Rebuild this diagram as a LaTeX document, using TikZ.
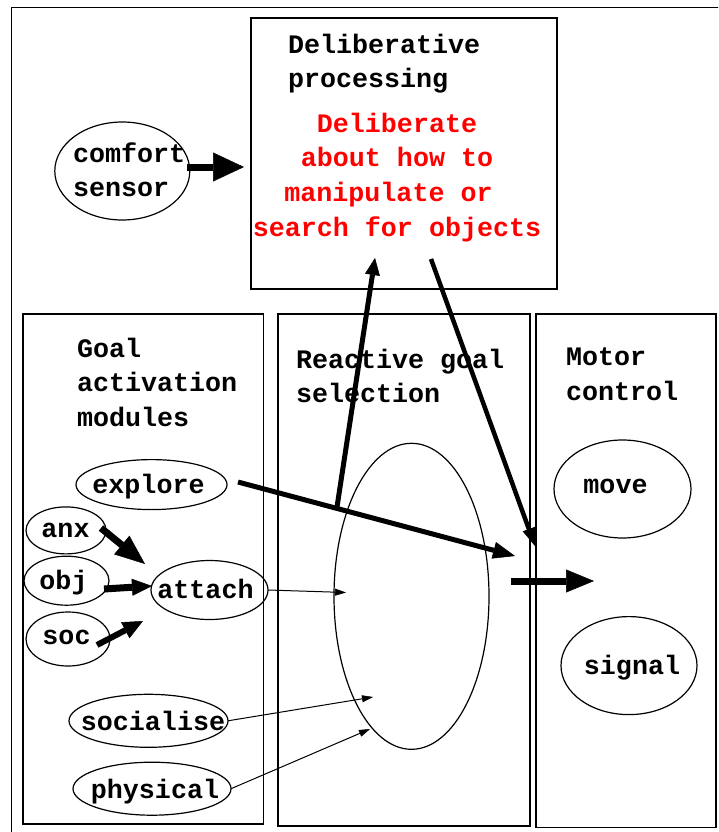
\documentclass[tikz,border=0pt]{standalone}
\usepackage{fontspec}
\setmainfont{Liberation Mono}
\usetikzlibrary{arrows.meta,shapes.geometric}
\begin{document}
\begin{tikzpicture}[x=1pt,y=-1pt,
  every node/.style={inner sep=0pt,outer sep=0pt},
  lbl/.style={font=\fontsize{26.7}{34}\selectfont\bfseries,anchor=base west},
  clbl/.style={font=\fontsize{26.7}{34}\selectfont\bfseries,anchor=base},
  panel/.style={draw,line width=1.5pt,anchor=north west},
  oval/.style={ellipse,draw,line width=1.2pt},
  arr/.style n args={3}{line width=#1,-{Triangle[length=#2,width=#3,line width=0.5pt]}},
  feed/.style={line width=1pt,-{Triangle[length=11pt,width=7pt,line width=0.5pt]}}]
\useasboundingbox (0,0) rectangle (718,832);
\clip (0,0) rectangle (718,832);

% outer frame (runs past the right and bottom edges)
\node[panel,minimum width=740pt,minimum height=860pt] (frame) at (11.5,7.5) {};

% panels
\node[panel,minimum width=306pt,minimum height=271pt] (delib) at (251,18) {};
\node[panel,minimum width=240.5pt,minimum height=510pt] (goal) at (23,314) {};
\node[panel,minimum width=252pt,minimum height=512pt] (react) at (278,314) {};
\node[panel,minimum width=180pt,minimum height=513.5pt] (motor) at (536,314) {};

% panel titles
\node[lbl] (delibT1) at (288,54) {Deliberative};
\node[lbl] (delibT2) at (288,88) {processing};
\node[clbl,text=red] (red1) at (397,132) {Deliberate};
\node[clbl,text=red] (red2) at (397,166) {about how to};
\node[clbl,text=red] (red3) at (388.5,201) {manipulate or};
\node[clbl,text=red] (red4) at (397,236) {search for objects};

\node[lbl] (goalT1) at (77,357) {Goal};
\node[lbl] (goalT2) at (77,391.5) {activation};
\node[lbl] (goalT3) at (77,426) {modules};

\node[lbl] (reactT1) at (296,368) {Reactive goal};
\node[lbl] (reactT2) at (296,402.5) {selection};

\node[lbl] (motorT1) at (566,365) {Motor};
\node[lbl] (motorT2) at (566,400) {control};

% comfort sensor
\node[oval,minimum width=135pt,minimum height=98pt] (comfort) at (122.3,171) {};
\node[lbl] (comfortT1) at (73,162) {comfort};
\node[lbl] (comfortT2) at (73,196) {sensor};

% goal activation modules
\node[oval,minimum width=151pt,minimum height=50pt] (explore) at (151.5,484.6) {};
\node[clbl] (exploreT) at (148.5,493.4) {explore};
\node[oval,minimum width=80pt,minimum height=47pt] (anx) at (66,530.4) {};
\node[clbl] (anxT) at (65.5,537.5) {anx};
\node[oval,minimum width=85pt,minimum height=49pt] (obj) at (66.5,580.7) {};
\node[clbl] (objT) at (63.5,589) {obj};
\node[oval,minimum width=84pt,minimum height=54pt] (soc) at (68,639) {};
\node[clbl] (socT) at (66.5,644.4) {soc};
\node[oval,minimum width=117pt,minimum height=59pt] (attach) at (209.5,590) {};
\node[clbl] (attachT) at (205.5,598) {attach};
\node[oval,minimum width=159pt,minimum height=53pt] (socialise) at (148.5,720.8) {};
\node[clbl] (socialiseT) at (153,730.3) {socialise};
\node[oval,minimum width=158pt,minimum height=53pt] (physical) at (152,788.7) {};
\node[clbl] (physicalT) at (155,798.1) {physical};

% reactive goal selection
\node[oval,minimum width=155pt,minimum height=306pt] (select) at (411.5,596.3) {};

% motor control
\node[oval,minimum width=137pt,minimum height=98pt] (move) at (622.5,489) {};
\node[clbl] (moveT) at (615.5,493.4) {move};
\node[oval,minimum width=136pt,minimum height=98pt] (signal) at (629,665.6) {};
\node[clbl] (signalT) at (632,674) {signal};

% connector end points
\coordinate (cs0) at (187,167);
\coordinate (cs1) at (244,167);
\coordinate (ex0) at (238,482);
\coordinate (ex1) at (515,556);
\coordinate (up0) at (337,507);
\coordinate (up1) at (375,258);
\coordinate (dn0) at (431,259);
\coordinate (dn1) at (535,546);
\coordinate (mo0) at (511,581);
\coordinate (mo1) at (594,581);
\coordinate (ax0) at (101,528);
\coordinate (ax1) at (145,564);
\coordinate (ob0) at (104,589);
\coordinate (ob1) at (152,586);
\coordinate (sc0) at (97,645);
\coordinate (sc1) at (143,621);
\coordinate (at1) at (346,592.5);
\coordinate (so1) at (373,697);
\coordinate (ph1) at (370,729);

% connectors
\draw[arr={7pt}{31pt}{29pt}] (cs0) -- (cs1);
\draw[arr={5pt}{22pt}{17pt}] (ex0) -- (ex1);
\draw[arr={5pt}{17pt}{15pt}] (up0) -- (up1);
\draw[arr={4.5pt}{18pt}{13pt}] (dn0) -- (dn1);
\draw[arr={7pt}{28pt}{23pt}] (mo0) -- (mo1);
\draw[arr={7pt}{30pt}{24pt}] (ax0) -- (ax1);
\draw[arr={7pt}{20pt}{17pt}] (ob0) -- (ob1);
\draw[arr={6pt}{20pt}{18pt}] (sc0) -- (sc1);
\draw[feed] (attach.east) -- (at1);
\draw[feed] (socialise.east) -- (so1);
\draw[feed] (physical.east) -- (ph1);
\end{tikzpicture}
\end{document}
